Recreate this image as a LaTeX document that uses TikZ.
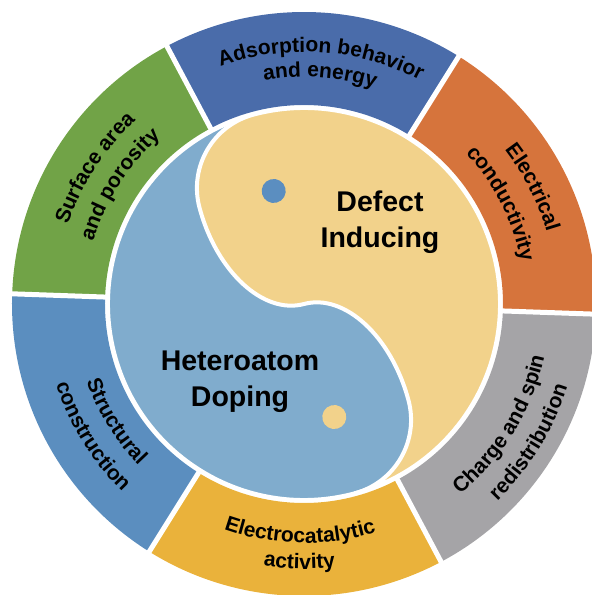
\documentclass[tikz,border=0pt]{standalone}
\usepackage{fontspec}
\setmainfont{Liberation Sans}
\usepackage{tikz}
\usetikzlibrary{decorations.text}

\definecolor{adsorb}{HTML}{4A6CAA}
\definecolor{elec}{HTML}{D6743C}
\definecolor{charge}{HTML}{A5A4A7}
\definecolor{catal}{HTML}{EAB23B}
\definecolor{struct}{HTML}{5B8EBF}
\definecolor{surface}{HTML}{71A347}
\definecolor{yinblue}{HTML}{80ACCD}
\definecolor{yinyellow}{HTML}{F2D28B}
\definecolor{dotblue}{HTML}{5B8EC0}

\newcommand{\ringfont}{\fontsize{21}{25}\selectfont\bfseries}

\begin{document}
\begin{tikzpicture}[x=1pt, y=1pt, line join=round,
  core/.style={font=\fontsize{28.5}{36}\selectfont\bfseries, align=center, inner sep=0pt},
  gap/.style={white, line width=5pt},
  yin/.style={draw=white, line width=4pt}]

\clip (-304,-291) rectangle (288,304);

\foreach \a/\col in {-2/elec, 58/adsorb, 118/surface, 178/struct, 238/catal, 298/charge}
  \fill[\col] (\a:199) arc[start angle=\a, end angle=\a+60, radius=199]
    -- ({\a+60}:292) arc[start angle=\a+60, end angle=\a, radius=292] -- cycle;
\foreach \a in {-2, 58, ..., 298}
  \draw[gap] (\a:190) -- (\a:300);

\begin{scope}[rotate=15]
\path[yin, fill=yinblue] (0,0) circle[radius=196];
\path[yin, fill=yinyellow] (0,196) arc[start angle=90, end angle=-90, radius=196]
  arc[start angle=-90, end angle=0, radius=76]
  arc[start angle=0, end angle=90, x radius=76, y radius=120]
  arc[start angle=-90, end angle=-180, x radius=76, y radius=120]
  arc[start angle=180, end angle=90, radius=76] -- cycle;
\fill[dotblue] (0,117) circle[radius=12];
\fill[yinyellow] (0,-117) circle[radius=12];
\end{scope}

\node[core] (defect) at (76,82) {Defect\\Inducing};
\node[core] (doping) at (-64,-78) {Heteroatom\\Doping};

\foreach \t/\r/\txt in {86/252/Adsorption behavior, 86/227/and energy, 27/253/Electrical, 27/221/conductivity, 147/249/Surface area, 147/220/and porosity}
  \path[decorate, decoration={text along path, text align=center, text/.expanded={|\noexpand\ringfont|\txt}}]
    ({\t+60}:\r) arc[start angle=\t+60, end angle=\t-60, radius=\r];
\foreach \t/\r/\txt in {-31.5/246/Charge and spin, -31.5/276/redistribution, -91/239/Electrocatalytic, -91/265/activity, 212/231/Structural, 212/261/construction}
  \path[decorate, decoration={text along path, text align=center, text/.expanded={|\noexpand\ringfont|\txt}}]
    ({\t-60}:\r) arc[start angle=\t-60, end angle=\t+60, radius=\r];
\end{tikzpicture}
\end{document}
